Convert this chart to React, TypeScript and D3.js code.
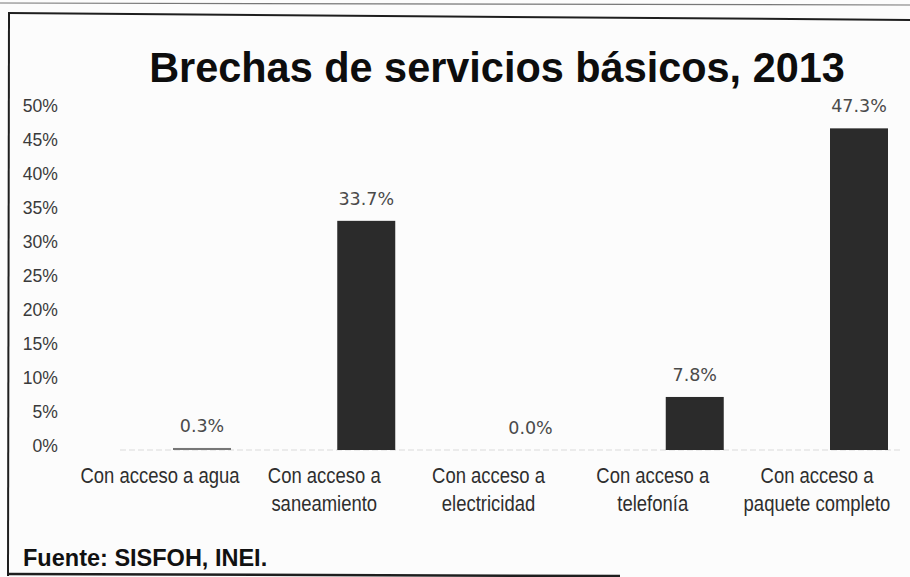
import React from "react";
import * as d3 from "d3";

const categories = [
  ["Con acceso a agua"],
  ["Con acceso a", "saneamiento"],
  ["Con acceso a", "electricidad"],
  ["Con acceso a", "telefonía"],
  ["Con acceso a", "paquete completo"],
];
const categoryKeys = ["agua", "saneamiento", "electricidad", "telefonia", "paquete"];
const values = [0.3, 33.7, 0.0, 7.8, 47.3];
const valueLabels = ["0.3%", "33.7%", "0.0%", "7.8%", "47.3%"];
const yTicks = [0, 5, 10, 15, 20, 25, 30, 35, 40, 45, 50];

const W = 910;
const H = 577;

export default function App() {
  const x = d3.scalePoint<string>().domain(categoryKeys).range([202, 859]);
  const y = d3.scaleLinear().domain([0, 50]).range([450, 110]);
  const barW = 58;
  const labelShift = -42;
  const sans = "'Liberation Sans', Arial, sans-serif";

  return (
    <svg
      width={W}
      height={H}
      style={{ position: "absolute", left: 0, top: 0, background: "#fdfdfd" }}
    >
      <rect x={0} y={0} width={W} height={H} fill="#fcfcfc" />
      {/* page/frame edges */}
      <line x1={0} y1={3} x2={W} y2={5} stroke="#777" strokeWidth={1.2} />
      <line x1={8} y1={13} x2={W} y2={20} stroke="#1e1e1e" strokeWidth={2} />
      <line x1={9} y1={13} x2={8} y2={576} stroke="#1e1e1e" strokeWidth={2} />
      <line x1={8} y1={574} x2={620} y2={576} stroke="#1e1e1e" strokeWidth={2.5} />

      {/* title */}
      <g transform="translate(497,82) scale(0.964,1)">
        <text
          x={0}
          y={0}
          textAnchor="middle"
          fontFamily={sans}
          fontWeight="bold"
          fontSize={43}
          fill="#0d0d0d"
        >
          Brechas de servicios básicos, 2013
        </text>
      </g>

      {/* y axis labels */}
      {yTicks.map((t) => (
        <g key={t} transform={`translate(58,${y(t) - 3}) scale(0.95,1)`}>
          <text
            x={0}
            y={0}
            textAnchor="end"
            dominantBaseline="middle"
            fontFamily={sans}
            fontSize={18.5}
            fill="#3a3a3a"
          >
            {t}%
          </text>
        </g>
      ))}

      {/* baseline */}
      <line x1={120} y1={y(0)} x2={900} y2={y(0)} stroke="#dadada" strokeWidth={1.2} strokeDasharray="6 3" />

      {/* bars */}
      {categoryKeys.map((k, i) => {
        const v = values[i];
        const top = y(v);
        const h = Math.max(y(0) - top, v > 0 ? 1.5 : 0);
        return (
          <rect
            key={k}
            x={(x(k) as number) - barW / 2}
            y={y(0) - h}
            width={barW}
            height={h}
            fill={v < 1 ? "#777" : "#2b2b2b"}
          />
        );
      })}

      {/* value labels */}
      {categoryKeys.map((k, i) => (
        <text
          key={k}
          x={x(k) as number}
          y={y(values[i]) - 16}
          textAnchor="middle"
          fontFamily="'DejaVu Sans', Verdana, sans-serif"
          fontSize={17.5}
          fill="#4a4a4a"
        >
          {valueLabels[i]}
        </text>
      ))}

      {/* category labels */}
      {categoryKeys.map((k, i) => (
        <g key={k} transform={`translate(${(x(k) as number) + labelShift},483) scale(0.84,1)`}>
          <text
            x={0}
            y={0}
            textAnchor="middle"
            fontFamily={sans}
            fontSize={22}
            fill="#2e2e2e"
          >
            {categories[i].map((line, j) => (
              <tspan key={j} x={0} dy={j === 0 ? 0 : 28}>
                {line}
              </tspan>
            ))}
          </text>
        </g>
      ))}

      {/* source */}
      <text
        x={23}
        y={566}
        fontFamily={sans}
        fontWeight="bold"
        fontSize={23.5}
        fill="#111"
      >
        Fuente: SISFOH, INEI.
      </text>
    </svg>
  );
}
